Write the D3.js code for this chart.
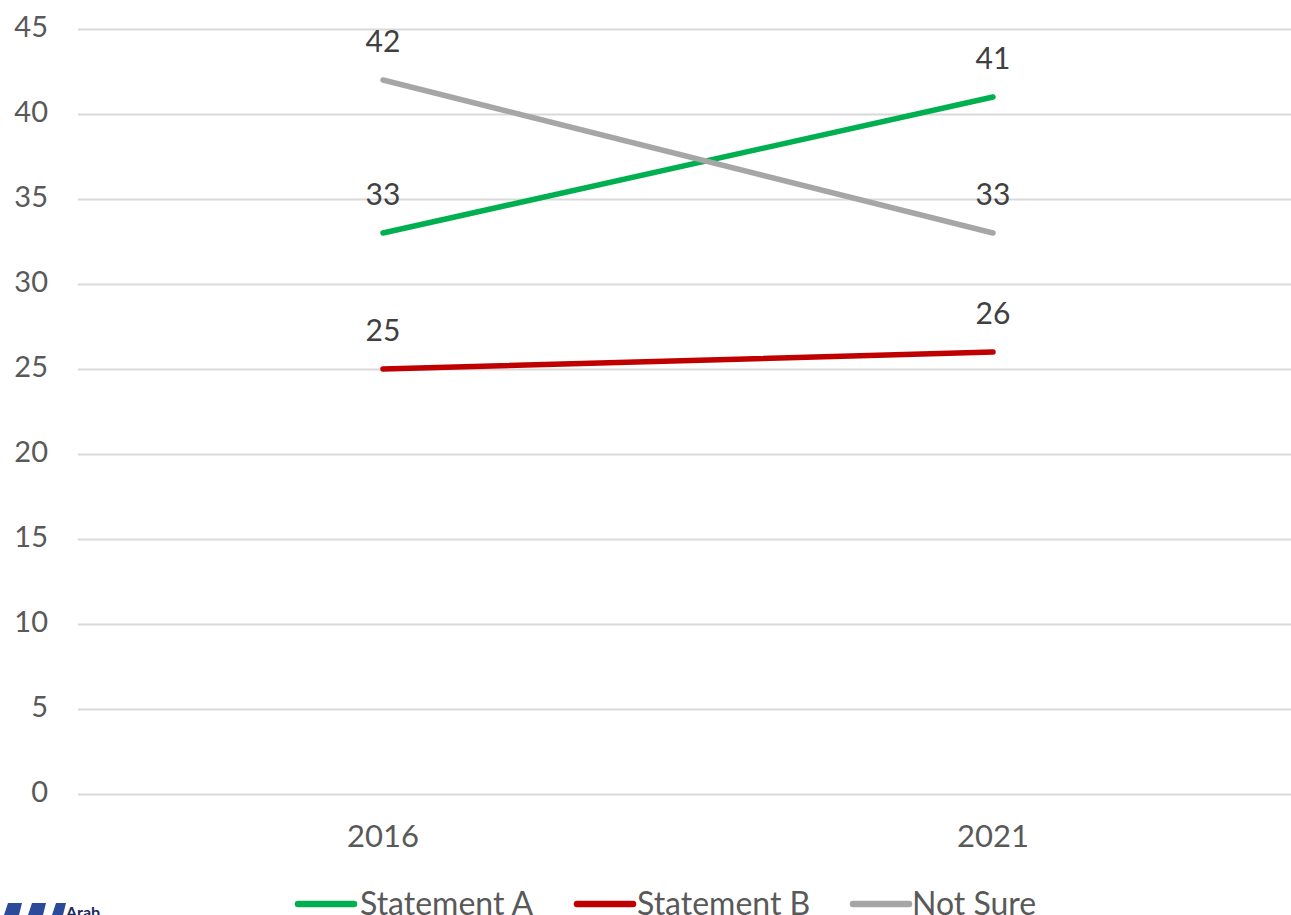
<!DOCTYPE html>
<html><head><meta charset="utf-8">
<script src="https://cdn.jsdelivr.net/npm/d3@7"></script>
<style>
html,body{margin:0;padding:0;background:#fff;overflow:hidden;}
text{font-family:Lato,"Liberation Sans",sans-serif;}
</style></head>
<body>
<svg id="chart" width="1291" height="915"></svg>
<script>
const categories = ["2016", "2021"];
const seriesNames = ["Statement A", "Statement B", "Not Sure"];
const statementA = [33, 41];
const statementB = [25, 26];
const notSure = [42, 33];
const yTicks = [0, 5, 10, 15, 20, 25, 30, 35, 40, 45];
const colors = ["#00b050", "#c00000", "#a6a6a6"];

const series = [statementA, statementB, notSure].map((v, i) => ({name: seriesNames[i], values: v, color: colors[i]}));

const svg = d3.select("#chart");
const plotLeft = 78, plotRight = 1298, plotTop = 29, plotBottom = 794;

const x = d3.scaleBand().domain(categories).range([plotLeft, plotRight]).paddingInner(0).paddingOuter(0);
const y = d3.scaleLinear().domain([0, 45]).range([plotBottom, plotTop]);

// gridlines + y labels
const yAxis = d3.axisLeft(y).tickValues(yTicks).tickSize(-(plotRight - plotLeft)).tickPadding(30).tickFormat(d3.format("d"));
const ga = svg.append("g").attr("transform", `translate(${plotLeft},0)`).call(yAxis);
ga.select(".domain").remove();
ga.selectAll(".tick line").attr("stroke", "#d9d9d9").attr("stroke-width", 2);
ga.selectAll(".tick text").attr("fill", "#595959").attr("font-family", null)
  .style("font-size", "29px").attr("dy", "0.25em");

// x axis labels
const xAxis = d3.axisBottom(x).tickSize(0).tickPadding(0);
const gx = svg.append("g").attr("transform", `translate(0,${plotBottom})`).call(xAxis);
gx.select(".domain").remove();
gx.selectAll(".tick text").attr("fill", "#595959").attr("font-family", null)
  .style("font-size", "31px").attr("y", 53).attr("dy", null);

const cx = c => x(c) + x.bandwidth() / 2;
const line = d3.line().x((d, i) => cx(categories[i])).y(d => y(d));

series.forEach(s => {
  svg.append("path").datum(s.values).attr("d", line)
    .attr("fill", "none").attr("stroke", s.color).attr("stroke-width", 5.5)
    .attr("stroke-linecap", "round");
});

series.forEach(s => {
  svg.append("g").selectAll("text").data(s.values).join("text")
    .attr("x", (d, i) => cx(categories[i]))
    .attr("y", d => y(d) - 28)
    .attr("text-anchor", "middle")
    .attr("fill", "#404040")
    .style("font-size", "30px")
    .text(d => d);
});

// legend
const legendItems = [{x: 298, tx: 360}, {x: 577, tx: 637}, {x: 853, tx: 912}];
series.forEach((s, i) => {
  const g = svg.append("g");
  g.append("line").attr("x1", legendItems[i].x).attr("x2", legendItems[i].x + 56)
    .attr("y1", 904).attr("y2", 904)
    .attr("stroke", s.color).attr("stroke-width", 6.5).attr("stroke-linecap", "round");
  g.append("text").attr("x", legendItems[i].tx).attr("y", 915)
    .attr("fill", "#595959").style("font-size", "32px").text(s.name);
});

// logo fragment
const logo = svg.append("g");
[[4, 18], [28, 18], [52, 14]].forEach(([lx, w]) => {
  logo.append("path")
    .attr("d", `M${lx + 4},903 L${lx + w},903 L${lx + w - 3},915 L${lx},915 Z`)
    .attr("fill", "#2b4a9a");
});
logo.append("text").attr("x", 66).attr("y", 918).attr("fill", "#1f2a5a")
  .style("font-size", "16px").style("font-weight", "bold").text("Arab");
</script>
</body></html>
